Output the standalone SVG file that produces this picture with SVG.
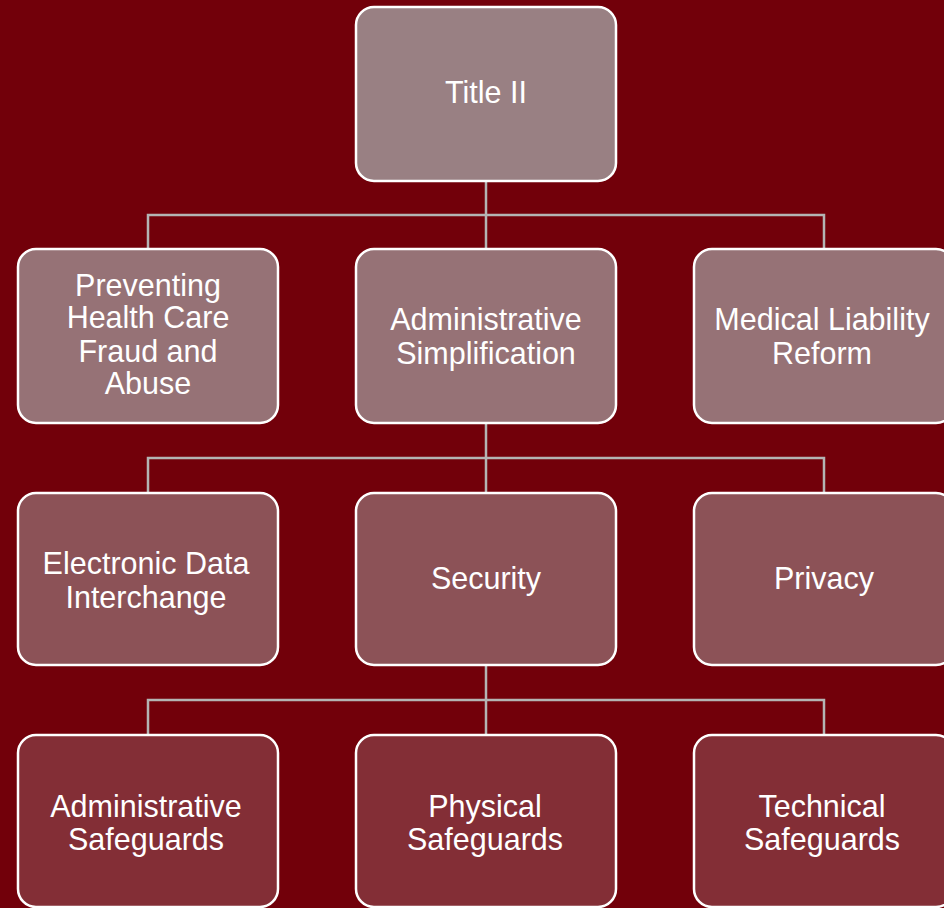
<svg xmlns="http://www.w3.org/2000/svg" width="944" height="908" viewBox="0 0 944 908">
<style>
.box{stroke:#ffffff;stroke-width:2.5}
.l0{fill:#998083}
.l1{fill:#967276}
.l2{fill:#8c5257}
.l3{fill:#832e36}
.conn{fill:none;stroke:#b4b4b4;stroke-width:2.5}
text{font-family:"Liberation Sans",Arial,sans-serif;font-size:30.5px;fill:#ffffff;text-anchor:middle}
</style>
<rect x="0" y="0" width="944" height="908" fill="#72000a"/>
<g id="connectors">
<path class="conn" d="M486 181V249M148 249V215H824V249"/>
<path class="conn" d="M486 423V493M148 493V458H824V493"/>
<path class="conn" d="M486 665V735M148 735V700H824V735"/>
</g>
<g id="title-ii"><rect class="box l0" x="356" y="7" width="260" height="174" rx="18"/><text x="486" y="103">Title II</text></g>
<g id="preventing"><rect class="box l1" x="18" y="249" width="260" height="174" rx="18"/><text x="148" y="296">Preventing</text><text x="148" y="328">Health Care</text><text x="148" y="362">Fraud and</text><text x="148" y="394">Abuse</text></g>
<g id="admin-simplification"><rect class="box l1" x="356" y="249" width="260" height="174" rx="18"/><text x="486" y="330">Administrative</text><text x="486" y="364">Simplification</text></g>
<g id="medical-liability"><rect class="box l1" x="694" y="249" width="260" height="174" rx="18"/><text x="822" y="330">Medical Liability</text><text x="822" y="364">Reform</text></g>
<g id="edi"><rect class="box l2" x="18" y="493" width="260" height="172" rx="18"/><text x="146" y="574">Electronic Data</text><text x="146" y="608">Interchange</text></g>
<g id="security"><rect class="box l2" x="356" y="493" width="260" height="172" rx="18"/><text x="486" y="589">Security</text></g>
<g id="privacy"><rect class="box l2" x="694" y="493" width="260" height="172" rx="18"/><text x="824" y="589">Privacy</text></g>
<g id="admin-safeguards"><rect class="box l3" x="18" y="735" width="260" height="172" rx="18"/><text x="146" y="817">Administrative</text><text x="146" y="850">Safeguards</text></g>
<g id="physical-safeguards"><rect class="box l3" x="356" y="735" width="260" height="172" rx="18"/><text x="485" y="817">Physical</text><text x="485" y="850">Safeguards</text></g>
<g id="technical-safeguards"><rect class="box l3" x="694" y="735" width="260" height="172" rx="18"/><text x="822" y="817">Technical</text><text x="822" y="850">Safeguards</text></g>
</svg>
